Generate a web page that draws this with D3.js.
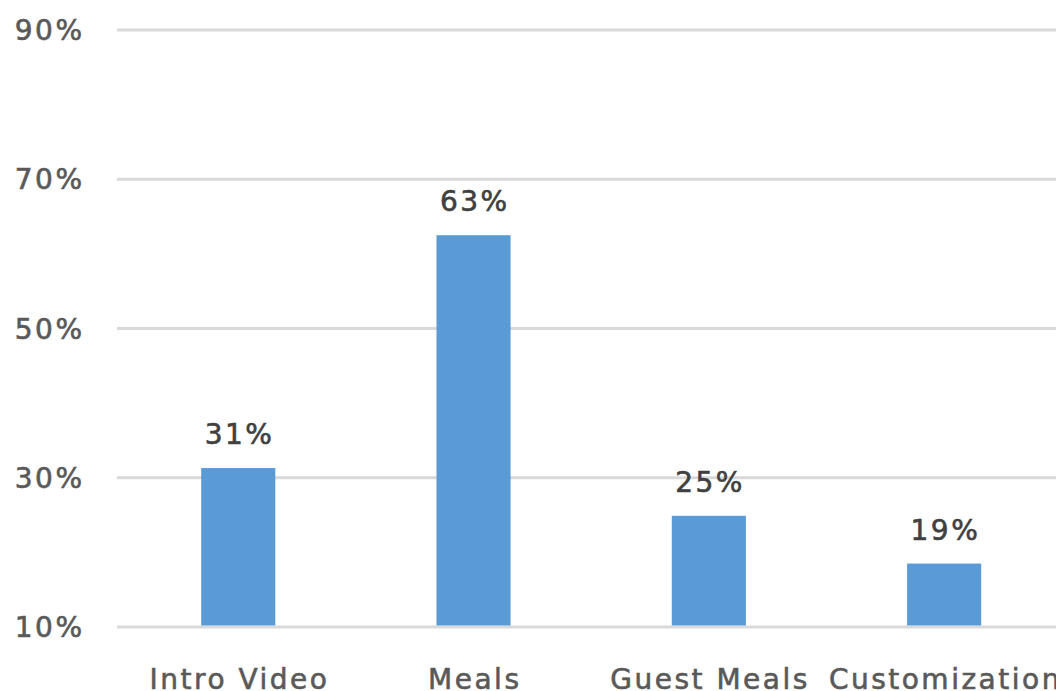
<!DOCTYPE html>
<html>
<head>
<meta charset="utf-8">
<script src="https://d3js.org/d3.v7.min.js"></script>
<style>
  html, body { margin: 0; padding: 0; background: #fff; overflow: hidden; }
  #chart { width: 1056px; height: 691px; }
  text { font-family: "DejaVu Sans", sans-serif; font-size: 28px; letter-spacing: 2.5px; stroke-width: 0.6px; }
</style>
</head>
<body>
<div id="chart"></div>
<script>
// data
const categories = ["Intro Video", "Meals", "Guest Meals", "Customization"];
const values = [31.3, 62.5, 24.9, 18.5];
const valueLabels = ["31%", "63%", "25%", "19%"];
const yTicks = [10, 30, 50, 70, 90];

const W = 1056, H = 691;

const svg = d3.select("#chart").append("svg")
    .attr("width", W)
    .attr("height", H);

// scales
const x = d3.scaleBand()
    .domain(categories)
    .range([120.6, 1061.8])
    .paddingInner(0.685)
    .paddingOuter(0.3425);

const y = d3.scaleLinear()
    .domain([10, 90])
    .range([627, 30]);

// gridlines
svg.append("g")
    .selectAll("line")
    .data(yTicks)
    .join("line")
    .attr("x1", 117)
    .attr("x2", W + 10)
    .attr("y1", d => y(d))
    .attr("y2", d => y(d))
    .attr("stroke", "#d9d9d9")
    .attr("stroke-width", 3);

// y labels
svg.append("g")
    .selectAll("text")
    .data(yTicks)
    .join("text")
    .attr("x", 84.5)
    .attr("y", d => y(d))
    .attr("dy", "0.36em")
    .attr("text-anchor", "end")
    .attr("fill", "#595959")
    .attr("stroke", "#595959")
    .text(d => d + "%");

// bars
svg.append("g")
    .selectAll("rect")
    .data(values)
    .join("rect")
    .attr("x", (d, i) => x(categories[i]))
    .attr("width", x.bandwidth())
    .attr("y", d => y(d))
    .attr("height", d => y(10) - 1.5 - y(d))
    .attr("fill", "#5b9bd5");

// data labels
svg.append("g")
    .selectAll("text")
    .data(values)
    .join("text")
    .attr("x", (d, i) => x(categories[i]) + x.bandwidth() / 2 + 1.25)
    .attr("y", d => y(d) - 24)
    .attr("text-anchor", "middle")
    .attr("fill", "#404040")
    .attr("stroke", "#404040")
    .text((d, i) => valueLabels[i]);

// category labels
svg.append("g")
    .selectAll("text")
    .data(categories)
    .join("text")
    .attr("x", d => x(d) + x.bandwidth() / 2 + 1.25)
    .attr("y", 688.5)
    .attr("text-anchor", "middle")
    .attr("fill", "#595959")
    .attr("stroke", "#595959")
    .text(d => d);
</script>
</body>
</html>
